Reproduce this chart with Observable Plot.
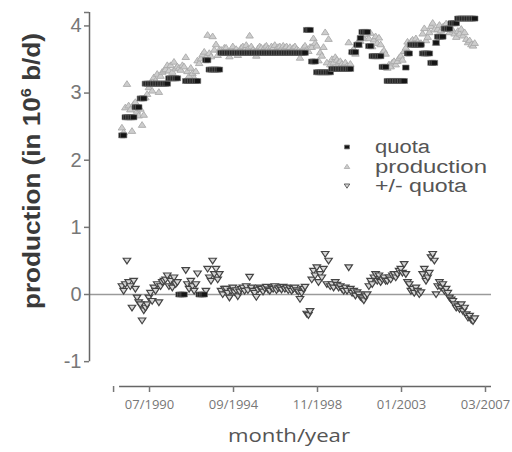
<!DOCTYPE html>
<html><head><meta charset="utf-8">
<script src="https://cdn.jsdelivr.net/npm/d3@7"></script>
<script src="https://cdn.jsdelivr.net/npm/@observablehq/plot@0.6"></script>
<style>
html,body{margin:0;padding:0;background:#fff;}
#chart{width:512px;height:452px;overflow:hidden;}
</style></head><body><div id="chart"></div>
<script>
// month index t is counted from 07/1990 (t = 0); first data month is 11/1988
const startMonth = -20;

const quota = [
  2.37, 2.37,
  2.64, 2.64, 2.64, 2.64, 2.64, 2.64, 2.79, 2.79, 2.79, 2.92, 2.92, 2.92,
  3.14, 3.14, 3.14, 3.14, 3.14, 3.14, 3.14, 3.14, 3.14, 3.14, 3.14, 3.14,
  3.14, 3.14, 3.22, 3.22, 3.22, 3.22, 3.22, 3.22, 0, 0, 0, 0,
  3.18, 3.18, 3.18, 3.18, 3.18, 3.18, 3.18, 3.18, 0, 0, 0, 0,
  3.49, 3.49, 3.35, 3.35, 3.35, 3.35, 3.35, 3.35, 3.35, 3.60, 3.60, 3.60,
  3.60, 3.60, 3.60, 3.60, 3.60, 3.60, 3.60, 3.60, 3.60, 3.60, 3.60, 3.60,
  3.60, 3.60, 3.60, 3.60, 3.60, 3.60, 3.60, 3.60, 3.60, 3.60, 3.60, 3.60,
  3.60, 3.60, 3.60, 3.60, 3.60, 3.60, 3.60, 3.60, 3.60, 3.60, 3.60, 3.60,
  3.60, 3.60, 3.60, 3.60, 3.60, 3.60, 3.60, 3.60, 3.60, 3.60, 3.60, 3.60,
  3.94, 3.94, 3.94, 3.47, 3.47, 3.47, 3.31, 3.31, 3.31, 3.31, 3.31, 3.31,
  3.31, 3.31, 3.31, 3.36, 3.36, 3.36, 3.36, 3.36, 3.36, 3.36, 3.36, 3.36,
  3.36, 3.36, 3.36, 3.61, 3.61, 3.61, 3.72, 3.72, 3.82, 3.91, 3.91, 3.91,
  3.91, 3.70, 3.70, 3.55, 3.55, 3.55, 3.55, 3.55, 3.55, 3.39, 3.39, 3.39,
  3.18, 3.18, 3.18, 3.18, 3.18, 3.18, 3.18, 3.18, 3.18, 3.18, 3.18, 3.38,
  3.59, 3.59, 3.72, 3.72, 3.72, 3.72, 3.72, 3.72, 3.72, 3.59, 3.59, 3.59,
  3.59, 3.59, 3.45, 3.45, 3.45, 3.75, 3.84, 3.84, 3.84, 3.84, 3.96, 3.96,
  3.96, 3.96, 4.04, 4.04, 4.04, 4.04, 4.11, 4.11, 4.11, 4.11, 4.11, 4.11,
  4.11, 4.11, 4.11, 4.11, 4.11
];

const production = [
  2.49, 2.42,
  2.79, 3.14, 2.82, 2.76, 2.44, 2.84, 2.87, 2.74, 2.67, 2.77, 2.53, 2.68,
  2.94, 2.99, 3.09, 3.16, 3.04, 3.24, 3.19, 3.29, 3.02, 3.26, 3.32, 3.34,
  3.36, 3.42, 3.34, 3.42, 3.32, 3.47, 3.37, 3.40, 3.38, 3.35, 3.42, 3.40,
  3.54, 3.33, 3.26, 3.38, 3.30, 3.23, 3.33, 3.49, 3.45, 3.52, 3.58, 3.62,
  3.54, 3.87, 3.60, 3.55, 3.85, 3.65, 3.73, 3.57, 3.65, 3.65, 3.60, 3.68,
  3.68, 3.62, 3.55, 3.65, 3.70, 3.63, 3.66, 3.57, 3.64, 3.68, 3.70, 3.65,
  3.72, 3.66, 3.86, 3.70, 3.65, 3.62, 3.56, 3.67, 3.70, 3.68, 3.64, 3.69,
  3.71, 3.67, 3.65, 3.70, 3.68, 3.72, 3.66, 3.69, 3.70, 3.67, 3.71, 3.68,
  3.70, 3.66, 3.69, 3.65, 3.68, 3.70, 3.66, 3.64, 3.53, 3.62, 3.68, 3.71,
  3.65, 3.63, 3.69, 3.69, 3.82, 3.75, 3.71, 3.49, 3.61, 3.56, 3.69, 3.91,
  3.46, 3.81, 3.43, 3.51, 3.46, 3.54, 3.50, 3.46, 3.48, 3.44, 3.41, 3.46,
  3.41, 3.76, 3.44, 3.63, 3.66, 3.59, 3.75, 3.72, 3.78, 3.85, 3.82, 3.88,
  3.91, 3.82, 3.90, 3.70, 3.80, 3.85, 3.75, 3.83, 3.73, 3.61, 3.64, 3.59,
  3.38, 3.43, 3.40, 3.46, 3.48, 3.43, 3.48, 3.53, 3.56, 3.50, 3.63, 3.68,
  3.77, 3.74, 3.77, 3.80, 3.74, 3.82, 3.77, 3.72, 3.75, 3.89, 3.97, 3.79,
  3.84, 3.91, 4.00, 4.05, 3.95, 3.75, 3.96, 4.02, 3.94, 3.99, 4.01, 4.04,
  3.98, 3.91, 3.96, 3.94, 3.89, 3.84, 3.93, 3.89, 3.96, 3.86, 3.91, 3.81,
  3.76, 3.79, 3.73, 3.71, 3.75
];

const diff = [
  0.12, 0.05,
  0.15, 0.50, 0.18, 0.12, -0.20, 0.20, 0.08, -0.05, -0.12, -0.15, -0.39, -0.24,
  -0.20, -0.15, -0.05, 0.02, -0.10, 0.10, 0.05, 0.15, -0.12, 0.12, 0.18, 0.20,
  0.22, 0.28, 0.12, 0.20, 0.10, 0.25, 0.15, 0.18, null, null, null, null,
  0.36, 0.15, 0.08, 0.20, 0.12, 0.05, 0.15, 0.31, null, null, null, null,
  0.05, 0.38, 0.25, 0.20, 0.50, 0.30, 0.38, 0.22, 0.30, 0.05, 0.00, 0.08,
  0.08, 0.02, -0.05, 0.05, 0.10, 0.03, 0.06, -0.03, 0.04, 0.08, 0.10, 0.05,
  0.12, 0.06, 0.26, 0.10, 0.05, 0.02, -0.04, 0.07, 0.10, 0.08, 0.04, 0.09,
  0.11, 0.07, 0.05, 0.10, 0.08, 0.12, 0.06, 0.09, 0.10, 0.07, 0.11, 0.08,
  0.10, 0.06, 0.09, 0.05, 0.08, 0.10, 0.06, 0.04, -0.07, 0.02, 0.08, 0.11,
  -0.29, -0.31, -0.25, 0.22, 0.35, 0.28, 0.40, 0.18, 0.30, 0.25, 0.38, 0.60,
  0.15, 0.50, 0.12, 0.15, 0.10, 0.18, 0.14, 0.10, 0.12, 0.08, 0.05, 0.10,
  0.05, 0.40, 0.08, 0.02, 0.05, -0.02, 0.03, 0.00, -0.04, -0.06, -0.09, -0.03,
  0.00, 0.12, 0.20, 0.15, 0.25, 0.30, 0.20, 0.28, 0.18, 0.22, 0.25, 0.20,
  0.20, 0.25, 0.22, 0.28, 0.30, 0.25, 0.30, 0.35, 0.38, 0.32, 0.45, 0.30,
  0.18, 0.15, 0.05, 0.08, 0.02, 0.10, 0.05, 0.00, 0.03, 0.30, 0.38, 0.20,
  0.25, 0.32, 0.55, 0.60, 0.50, 0.00, 0.12, 0.18, 0.10, 0.15, 0.05, 0.08,
  0.02, -0.05, -0.08, -0.10, -0.15, -0.20, -0.18, -0.22, -0.15, -0.25, -0.20, -0.30,
  -0.35, -0.32, -0.38, -0.40, -0.36
];

const xTickValues = [0, 50, 100, 150, 200];
const xTickLabels = ["07/1990", "09/1994", "11/1998", "01/2003", "03/2007"];
const yTicks = [-1, 0, 1, 2, 3, 4];
const seriesNames = ["quota", "production", "+/- quota"];

const xMin = -39.3, xMax = 200, xAxisStart = -21.4;
const yMin = -1.37, yMax = 4.2, yAxisBottom = -1;

const rows = quota.map((q, i) => ({t: startMonth + i, quota: q, production: production[i], diff: diff[i]}));

const boxSym = {draw(ctx, size) { const s = Math.sqrt(size); ctx.rect(-s * 0.56, -s * 0.43, s * 1.12, s * 0.86); }};
const triUp = {draw(ctx, size) { const s = Math.sqrt(size); ctx.moveTo(0, -s * 0.5); ctx.lineTo(s * 0.62, s * 0.45); ctx.lineTo(-s * 0.62, s * 0.45); ctx.closePath(); }};
const triDown = {draw(ctx, size) { const s = Math.sqrt(size); ctx.moveTo(0, s * 0.5); ctx.lineTo(s * 0.62, -s * 0.45); ctx.lineTo(-s * 0.62, -s * 0.45); ctx.closePath(); }};

const svg = Plot.plot({
  width: 512, height: 452,
  marginLeft: 89, marginRight: 21, marginTop: 12, marginBottom: 66,
  x: {domain: [xMin, xMax], axis: null},
  y: {domain: [yMin, yMax], axis: null},
  style: {fontFamily: "'Liberation Sans', Arial, sans-serif", background: "#fff", overflow: "visible"},
  marks: [
    Plot.ruleY([0], {x1: xMin, x2: xMax, stroke: "#9a9a9a", strokeWidth: 1.5}),
    Plot.ruleX([xMin], {y1: yAxisBottom, y2: yMax, stroke: "#666", strokeWidth: 1.5}),
    Plot.axisY({ticks: yTicks, tickSize: 5, tickPadding: 3, fontSize: 20, color: "#777", strokeWidth: 1.5,
      label: null, tickFormat: d => String(d)}),
    Plot.axisY({ticks: [yMax], tickSize: 5, tickFormat: () => "", label: null, color: "#777", strokeWidth: 1.5}),
    Plot.ruleY([yMin], {x1: xAxisStart, x2: xMax, stroke: "#666", strokeWidth: 1.5}),
    Plot.axisX({ticks: [xAxisStart, ...xTickValues], tickSize: 6, tickPadding: 7, fontSize: 13, label: null,
      fontFamily: "'Open Sans', sans-serif", dx: -6, color: "#777", strokeWidth: 1.5,
      tickFormat: d => { const k = xTickValues.indexOf(d); return k < 0 ? "" : xTickLabels[k]; }}),
    Plot.dot(rows, {x: "t", y: "production", symbol: triUp, r: 3.4, fill: "#cdcdcd", stroke: "#aaaaaa", strokeWidth: 0.9}),
    Plot.dot(rows.filter(d => d.diff != null), {x: "t", y: "diff", symbol: triDown, r: 3.4, fill: "#d6d6d6", stroke: "#444", strokeWidth: 1.2}),
    Plot.dot(rows, {x: "t", y: "quota", symbol: boxSym, r: 3.3, fill: "#151515", stroke: "#777", strokeWidth: 0.6})
  ]
});

const s = d3.select(svg);
// y-axis title
const yl = s.append("text")
  .attr("transform", "translate(40,171) rotate(-90)")
  .attr("text-anchor", "middle")
  .attr("font-family", "'Liberation Sans', Arial, sans-serif")
  .attr("font-weight", "bold").attr("font-size", 24).attr("fill", "#3a3a3a")
  .attr("textLength", 276).attr("lengthAdjust", "spacingAndGlyphs");
yl.append("tspan").text("production (in 10");
yl.append("tspan").attr("dy", -9).attr("font-size", 15).text("6");
yl.append("tspan").attr("dy", 9).text(" b/d)");

// x-axis title
s.append("text").attr("x", 289).attr("y", 442).attr("text-anchor", "middle")
  .attr("font-family", "'Open Sans', sans-serif").attr("font-size", 19).attr("fill", "#555")
  .attr("textLength", 122).attr("lengthAdjust", "spacingAndGlyphs").text("month/year");

// legend
const legendSyms = [
  {sym: boxSym, fill: "#151515", stroke: "#777", w: 55},
  {sym: triUp, fill: "#cdcdcd", stroke: "#aaaaaa", w: 112},
  {sym: triDown, fill: "#d6d6d6", stroke: "#444", w: 92}
];
seriesNames.forEach((name, i) => {
  const cy = 147 + i * 19.5;
  const L = legendSyms[i];
  s.append("path").attr("transform", `translate(347,${cy})`)
    .attr("d", d3.symbol(L.sym, 20)()).attr("fill", L.fill).attr("stroke", L.stroke).attr("stroke-width", 0.8);
  s.append("text").attr("x", 375).attr("y", cy + 6).attr("text-anchor", "start")
    .attr("font-family", "'Liberation Sans', Arial, sans-serif").attr("font-size", 18).attr("fill", "#555")
    .attr("textLength", L.w).attr("lengthAdjust", "spacingAndGlyphs").text(name);
});

document.getElementById("chart").appendChild(svg);
</script>
</body></html>
